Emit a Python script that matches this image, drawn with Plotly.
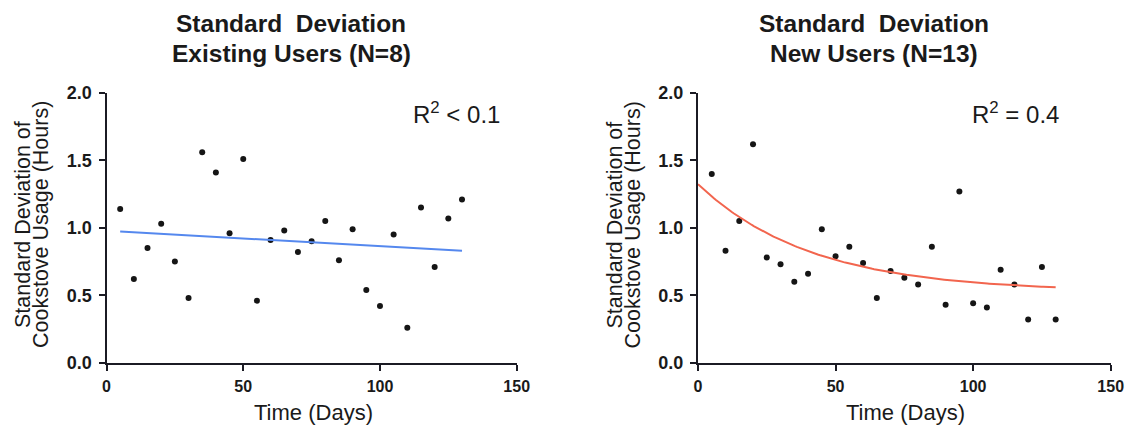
import numpy as np
import plotly.graph_objects as go

# ---- data ----
days = [5, 10, 15, 20, 25, 30, 35, 40, 45, 50, 55, 60, 65, 70, 75, 80, 85, 90,
        95, 100, 105, 110, 115, 120, 125, 130]
existing_sd = [1.14, 0.62, 0.85, 1.03, 0.75, 0.48, 1.56, 1.41, 0.96, 1.51, 0.46,
               0.91, 0.98, 0.82, 0.90, 1.05, 0.76, 0.99, 0.54, 0.42, 0.95, 0.26,
               1.15, 0.71, 1.07, 1.21]
new_sd = [1.40, 0.83, 1.05, 1.62, 0.78, 0.73, 0.60, 0.66, 0.99, 0.79, 0.86, 0.74,
          0.48, 0.68, 0.63, 0.58, 0.86, 0.43, 1.27, 0.44, 0.41, 0.69, 0.58, 0.32,
          0.71, 0.32]
# linear fit (existing users): intercept, slope
lin_fit = [0.978, -0.00113]
lin_span = [5, 130]
# one-phase decay fit (new users): y0, plateau, k
exp_fit = [1.324, 0.525, 0.0243]
exp_span = [0, 130]

titles_left = ["Standard\u00a0 Deviation", "Existing Users (N=8)"]
titles_right = ["Standard\u00a0 Deviation", "New Users (N=13)"]
ytitle_lines = ["Standard Deviation of", "Cookstove Usage (Hours)"]
xtitle = "Time (Days)"
r2_left = "R<sup>2</sup> < 0.1"
r2_right = "R<sup>2</sup> = 0.4"
x_ticks = [0, 50, 100, 150]
y_ticks = [0.0, 0.5, 1.0, 1.5, 2.0]

W, H = 1132, 429
FONT = "Liberation Sans, Arial, sans-serif"
AXC = "#1b1b24"

xl = np.linspace(lin_span[0], lin_span[1], 50)
yl = lin_fit[0] + lin_fit[1] * xl
xe = np.linspace(exp_span[0], exp_span[1], 200)
ye = exp_fit[1] + (exp_fit[0] - exp_fit[1]) * np.exp(-exp_fit[2] * xe)

fig = go.Figure()
fig.add_trace(go.Scatter(x=days, y=existing_sd, mode="markers",
                         marker=dict(color="#151515", size=6), xaxis="x", yaxis="y"))
fig.add_trace(go.Scatter(x=xl, y=yl, mode="lines",
                         line=dict(color="#5588ee", width=2), xaxis="x", yaxis="y"))
fig.add_trace(go.Scatter(x=days, y=new_sd, mode="markers",
                         marker=dict(color="#151515", size=6), xaxis="x2", yaxis="y2"))
fig.add_trace(go.Scatter(x=xe, y=ye, mode="lines",
                         line=dict(color="#f2654e", width=2), xaxis="x2", yaxis="y2"))

def px(x):
    return x / W

def py(y):
    return 1 - y / H

ydom = [py(362.7), py(93)]
common_x = dict(range=[0, 150], tickvals=x_ticks, showline=True, linecolor=AXC,
                linewidth=2, ticks="outside", ticklen=6, tickwidth=2, tickcolor=AXC,
                showgrid=False, zeroline=False, ticklabelstandoff=2, automargin=False,
                tickfont=dict(family=FONT, size=16, color="#1a1a1a", weight="bold"))
common_y = dict(range=[0, 2], tickvals=y_ticks, tickformat=".1f", showline=True,
                linecolor=AXC, linewidth=2, ticks="outside", ticklen=6, tickwidth=2,
                tickcolor=AXC, showgrid=False, zeroline=False, ticklabelstandoff=3,
                automargin=False,
                tickfont=dict(family=FONT, size=18, color="#1a1a1a", weight="bold"))

fig.update_layout(
    width=W, height=H, margin=dict(l=0, r=0, t=0, b=0, autoexpand=False),
    paper_bgcolor="white", plot_bgcolor="white", showlegend=False,
    xaxis=dict(domain=[px(106.5), px(516.7)], anchor="y", **common_x),
    yaxis=dict(domain=ydom, anchor="x", **common_y),
    xaxis2=dict(domain=[px(698), px(1110.7)], anchor="y2", **common_x),
    yaxis2=dict(domain=ydom, anchor="x2", **common_y),
)

anns = []
def text(x, y, s, size, bold=False, angle=0):
    anns.append(dict(x=px(x), y=py(y), xref="paper", yref="paper", text=s,
                     showarrow=False, textangle=angle, xanchor="center", yanchor="middle",
                     font=dict(family=FONT, size=size, color="#1a1a1a",
                               weight="bold" if bold else "normal")))

for cx, tl in [(291, titles_left), (874, titles_right)]:
    text(cx, 24, tl[0], 24.5, bold=True)
    text(cx, 53, tl[1], 24.5, bold=True)

for ox in [0, 591.5]:
    text(23 + ox, 225, ytitle_lines[0], 21.5, angle=-90)
    text(41 + ox, 225, ytitle_lines[1], 21.5, angle=-90)

text(314, 412, xtitle, 22)
text(905, 412, xtitle, 22)
text(456, 113, r2_left, 24)
text(1015, 113, r2_right, 24)

fig.update_layout(annotations=anns)
fig.write_html("out.html", config={"displayModeBar": False},
               post_script="document.body.style.margin='0px';document.body.style.overflow='hidden';")
